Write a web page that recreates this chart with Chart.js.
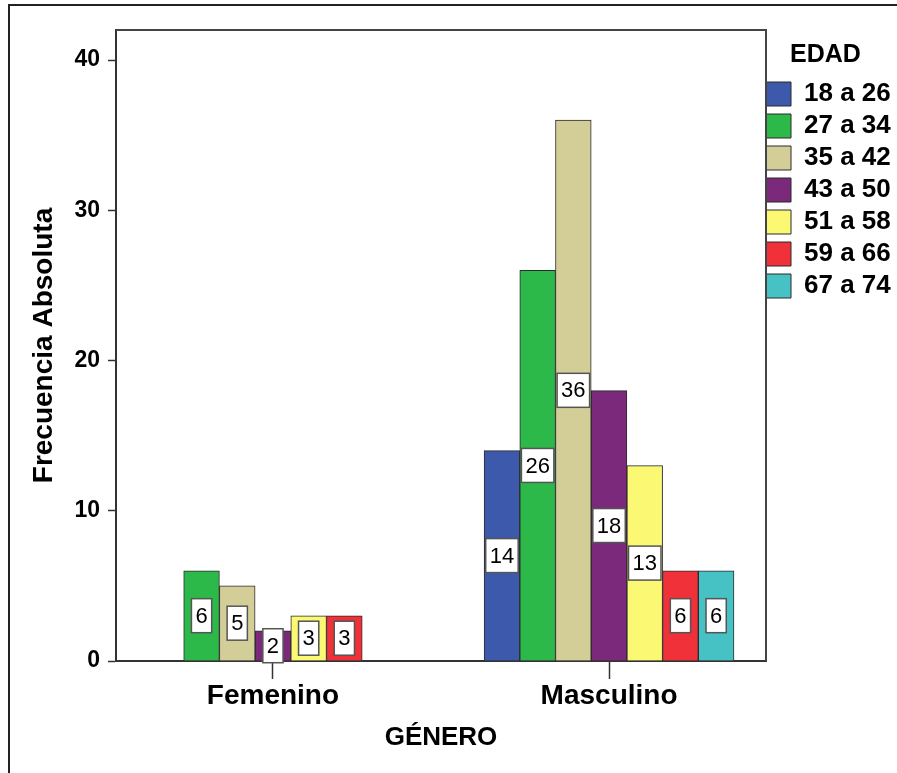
<!DOCTYPE html>
<html>
<head>
<meta charset="utf-8">
<script src="https://cdn.jsdelivr.net/npm/chart.js@4/dist/chart.umd.min.js"></script>
<style>
  html, body { margin: 0; padding: 0; background: #fff; overflow: hidden; }
</style>
</head>
<body>
<canvas id="myChart" width="897" height="773"></canvas>
<script>
const generos = ['Femenino', 'Masculino'];
const edades = ['18 a 26', '27 a 34', '35 a 42', '43 a 50', '51 a 58', '59 a 66', '67 a 74'];
const colores = ['#3D59AB', '#2DB84A', '#D3CE97', '#7A297B', '#FBF873', '#F0313A', '#46C1C4'];
// frecuencias por edad (null = sin barra)
const femenino = [null, 6, 5, 2, 3, 3, null];
const masculino = [14, 26, 36, 18, 13, 6, 6];
const yTicks = [0, 10, 20, 30, 40];

const fuente = "'Liberation Sans', Arial, sans-serif";
Chart.defaults.font.family = fuente;
Chart.defaults.color = '#000';

const datasets = edades.map((edad, i) => ({
  label: edad,
  data: [{x: 0, y: femenino[i]}, {x: 1, y: masculino[i]}],
  backgroundColor: colores[i],
  borderColor: '#2b2b2b',
  borderWidth: 1
}));

// caja blanca con el valor en medio de cada barra
const etiquetas = {
  id: 'etiquetas',
  afterDatasetsDraw(chart) {
    const ctx = chart.ctx;
    ctx.save();
    ctx.font = '22px ' + fuente;
    ctx.textAlign = 'center';
    ctx.textBaseline = 'middle';
    chart.data.datasets.forEach((ds, i) => {
      chart.getDatasetMeta(i).data.forEach((bar, j) => {
        const v = ds.data[j].y;
        if (v == null) return;
        const txt = String(v);
        const cy = (bar.y + bar.base) / 2;
        const w = ctx.measureText(txt).width + 8;
        const h = 34;
        ctx.fillStyle = '#fff';
        ctx.fillRect(bar.x - w / 2, cy - h / 2, w, h);
        ctx.strokeStyle = '#555';
        ctx.lineWidth = 1.5;
        ctx.strokeRect(bar.x - w / 2, cy - h / 2, w, h);
        ctx.fillStyle = '#000';
        ctx.fillText(txt, bar.x, cy + 1);
      });
    });
    ctx.restore();
  }
};

// marco exterior y borde superior/derecho del area
const marco = {
  id: 'marco',
  afterLayout(chart) {
    // la leyenda queda un poco mas pegada al area, como en SPSS
    chart.legend.left -= 6;
    chart.legend.right -= 6;
  },
  afterDraw(chart) {
    const ctx = chart.ctx;
    const a = chart.chartArea;
    ctx.save();
    ctx.strokeStyle = '#222';
    ctx.lineWidth = 2;
    ctx.beginPath();
    ctx.moveTo(9, chart.height);
    ctx.lineTo(9, 5);
    ctx.lineTo(chart.width, 5);
    ctx.stroke();
    ctx.strokeStyle = '#444';
    ctx.beginPath();
    ctx.moveTo(a.left, a.top);
    ctx.lineTo(a.right, a.top);
    ctx.lineTo(a.right, a.bottom);
    ctx.stroke();
    ctx.restore();
  }
};

new Chart('myChart', {
  type: 'bar',
  data: { datasets: datasets },
  options: {
    responsive: false,
    animation: false,
    layout: { padding: { top: 30, left: 0, right: 0, bottom: 0 } },
    datasets: { bar: { barThickness: 35.7, skipNull: true } },
    scales: {
      x: {
        type: 'linear',
        offset: false,
        min: -0.467,
        max: 1.467,
        afterBuildTicks: s => { s.ticks = generos.map((g, i) => ({ value: i })); },
        afterFit: s => { s.height = 112; },
        ticks: {
          callback: v => generos[v],
          font: { size: 28, weight: 'bold' },
          color: '#000',
          padding: 0,
          maxRotation: 0,
          autoSkip: false
        },
        grid: { offset: false, drawOnChartArea: false, tickLength: 18, tickColor: '#333', tickWidth: 1.5 },
        border: { color: '#333', width: 2 },
        title: {
          display: true,
          text: 'GÉNERO',
          font: { size: 26, weight: 'bold' },
          color: '#000',
          padding: { top: 0, bottom: 20 }
        }
      },
      y: {
        min: 0,
        max: 42,
        afterBuildTicks: s => { s.ticks = yTicks.map(v => ({ value: v })); },
        afterFit: s => { s.width = 116; },
        ticks: { font: { size: 23, weight: 'bold' }, color: '#000', padding: 8 },
        grid: { drawOnChartArea: false, tickLength: 8, tickColor: '#333', tickWidth: 1.5 },
        border: { color: '#333', width: 2 },
        title: {
          display: true,
          text: 'Frecuencia Absoluta',
          font: { size: 28, weight: 'bold' },
          color: '#000',
          padding: { top: 27, bottom: 0 }
        }
      }
    },
    plugins: {
      tooltip: { enabled: false },
      legend: {
        position: 'right',
        align: 'start',
        maxWidth: 131,
        title: {
          display: true,
          text: 'EDAD',
          font: { size: 25, weight: 'bold' },
          color: '#000',
          padding: { top: 13, bottom: 2 }
        },
        labels: {
          boxWidth: 25,
          boxHeight: 24,
          padding: 6,
          color: '#000',
          font: { size: 26, weight: 'bold' }
        }
      }
    }
  },
  plugins: [etiquetas, marco]
});
</script>
</body>
</html>
